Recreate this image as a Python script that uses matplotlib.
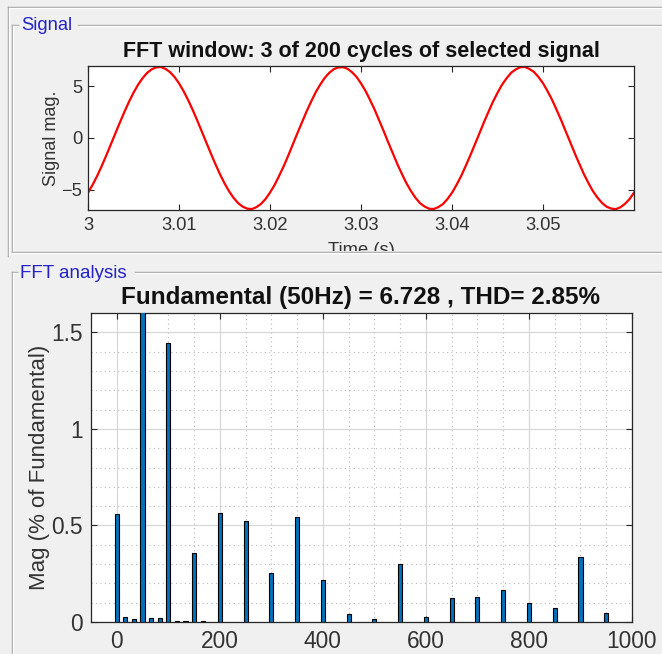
import numpy as np
import matplotlib
matplotlib.use("Agg")
import matplotlib.pyplot as plt
from matplotlib.lines import Line2D
from matplotlib.ticker import MultipleLocator
from matplotlib.transforms import Bbox, TransformedBbox

# ---------------- data ----------------
# Signal samples, every 0.5 ms from t = 3.000 s to 3.060 s
signal_t0 = 3.0
signal_dt = 0.0005
signal_mag = [
    -5.28, -4.53, -3.67, -2.72, -1.70, -0.64, 0.43, 1.49, 2.52, 3.49,
    4.37, 5.14, 5.78, 6.29, 6.63, 6.82, 6.85, 6.68, 6.37, 5.90,
    5.28, 4.53, 3.67, 2.72, 1.70, 0.64, -0.43, -1.49, -2.52, -3.49,
    -4.37, -5.14, -5.78, -6.29, -6.63, -6.82, -6.86, -6.68, -6.37, -5.90,
    -5.27, -4.54, -3.66, -2.73, -1.71, -0.63, 0.44, 1.48, 2.53, 3.48,
    4.38, 5.13, 5.79, 6.28, 6.64, 6.81, 6.84, 6.69, 6.36, 5.91,
    5.27, 4.54, 3.66, 2.73, 1.69, 0.65, -0.44, -1.48, -2.53, -3.48,
    -4.38, -5.13, -5.79, -6.30, -6.62, -6.83, -6.85, -6.67, -6.38, -5.89,
    -5.29, -4.52, -3.68, -2.71, -1.70, -0.65, 0.42, 1.50, 2.51, 3.50,
    4.36, 5.15, 5.77, 6.30, 6.62, 6.83, 6.86, 6.67, 6.38, 5.89,
    5.29, 4.52, 3.68, 2.71, 1.71, 0.63, -0.42, -1.50, -2.51, -3.50,
    -4.36, -5.15, -5.77, -6.28, -6.64, -6.81, -6.87, -6.69, -6.36, -5.91,
    -5.28,
]

# FFT bins (Hz) and magnitudes (% of fundamental)
freq_hz = [0, 16.67, 33.33, 50, 66.67, 83.33, 100, 116.67, 133.33, 150, 166.67,
           200, 250, 300, 350, 400, 450, 500, 550, 600, 650, 700, 750, 800,
           850, 900, 950]
mag_pct = [0.558, 0.027, 0.014, 100.0, 0.019, 0.019, 1.445, 0.007, 0.007, 0.355,
           0.007, 0.563, 0.524, 0.252, 0.543, 0.219, 0.039, 0.014, 0.299, 0.027,
           0.124, 0.131, 0.168, 0.099, 0.073, 0.337, 0.048]

signal_xticks = [3.0, 3.01, 3.02, 3.03, 3.04, 3.05]
signal_xticklabels = ["3", "3.01", "3.02", "3.03", "3.04", "3.05"]
signal_yticks = [-5, 0, 5]
fft_xticks = [0, 200, 400, 600, 800, 1000]
fft_yticks = [0, 0.5, 1, 1.5]
fft_yticklabels = ["0", "0.5", "1", "1.5"]

title_signal = "FFT window: 3 of 200 cycles of selected signal"
title_fft = "Fundamental (50Hz) = 6.728 , THD= 2.85%"

# ---------------- figure ----------------
W, H = 662, 654
plt.rcParams['font.family'] = ['Liberation Sans', 'DejaVu Sans']
BG = '#f0f0f0'
fig = plt.figure(figsize=(W / 100, H / 100), dpi=100, facecolor=BG)


def fx(x):
    return x / W


def fy(y):
    return 1 - y / H


def ax_rect(l, t, r, b):
    return [fx(l), fy(b), (r - l) / W, (b - t) / H]


def hline(x0, x1, y, color='#a0a0a0', lw=1.0, z=5):
    fig.add_artist(Line2D([fx(x0), fx(x1)], [fy(y), fy(y)], color=color, lw=lw,
                          transform=fig.transFigure, zorder=z))


def vline(x, y0, y1, color='#a0a0a0', lw=1.0, z=5):
    fig.add_artist(Line2D([fx(x), fx(x)], [fy(y0), fy(y1)], color=color, lw=lw,
                          transform=fig.transFigure, zorder=z))


# outer frame
hline(8, W, 7)
hline(9, W, 8, color='white')
vline(8, 7, 256)
vline(9, 8, 256, color='white')

# Signal panel
hline(12, 18, 25)
hline(78, W, 25)
hline(13, 18, 26, color='white')
hline(78, W, 26, color='white')
vline(12, 25, 252)
vline(13, 26, 251, color='white')
hline(12, W, 252)
hline(12, W, 253, color='white')
fig.text(fx(21), fy(26), "Signal", color='#2323c8', fontsize=13.2,
         ha='left', va='center')

# FFT panel
hline(12, 17, 272)
hline(135, W, 272)
hline(13, 17, 273, color='white')
hline(135, W, 273, color='white')
vline(12, 272, H)
vline(13, 273, H, color='white')
fig.text(fx(20), fy(273), "FFT analysis", color='#2323c8', fontsize=13.5,
         ha='left', va='center')

AXC = '#262626'
TXT = '#333333'

# ---------------- signal axes ----------------
ax1 = fig.add_axes(ax_rect(88, 66, 634, 210))
t = signal_t0 + signal_dt * np.arange(len(signal_mag))
ax1.plot(t, signal_mag, color='red', lw=1.6)
ax1.set_xlim(3.0, 3.06)
ax1.set_ylim(-6.95, 6.95)
ax1.set_xticks(signal_xticks)
ax1.set_xticklabels(signal_xticklabels)
ax1.set_yticks(signal_yticks)
ax1.tick_params(direction='in', length=4, width=0.8, color=AXC,
                top=True, right=True, labelsize=13.2, labelcolor=TXT)
ax1.tick_params(axis='x', pad=5)
ax1.tick_params(axis='y', pad=4)
for s in ax1.spines.values():
    s.set_color(AXC)
    s.set_linewidth(0.9)
fig.text(fx(361), fy(52), title_signal, fontsize=15.5, fontweight='bold',
         ha='center', va='center', color='#111111')
fig.text(fx(52), fy(138), "Signal mag.", fontsize=13, rotation=90,
         ha='center', va='center', color=TXT)
xl = fig.text(fx(361), fy(255), "Time (s)", fontsize=13.2, ha='center',
              va='baseline', color=TXT)
xl.set_clip_box(TransformedBbox(Bbox([[0, fy(251)], [1, 1]]), fig.transFigure))
xl.set_clip_on(True)

# ---------------- FFT axes ----------------
ax2 = fig.add_axes(ax_rect(91, 313, 632, 622))
ax2.bar(freq_hz, mag_pct, width=8, color='#0072BD', edgecolor='black',
        linewidth=0.8, zorder=3)
ax2.set_xlim(-50, 1000)
ax2.set_ylim(0, 1.6)
ax2.set_xticks(fft_xticks)
ax2.set_yticks(fft_yticks)
ax2.set_yticklabels(fft_yticklabels)
ax2.xaxis.set_minor_locator(MultipleLocator(50))
ax2.yaxis.set_minor_locator(MultipleLocator(0.1))
ax2.set_axisbelow(True)
ax2.grid(which='major', color='#d8d8d8', lw=0.9, ls='-')
ax2.grid(which='minor', color='#b8b8b8', lw=0.8, ls=(0, (1, 3)))
ax2.tick_params(which='major', direction='in', length=4, width=0.8, color=AXC,
                top=True, right=True, labelsize=16.4, labelcolor=TXT)
ax2.tick_params(which='minor', length=0)
ax2.tick_params(axis='x', pad=6)
ax2.tick_params(axis='y', pad=6)
for s in ax2.spines.values():
    s.set_color(AXC)
    s.set_linewidth(0.9)
fig.text(fx(361), fy(297), title_fft, fontsize=17.5, fontweight='bold',
         ha='center', va='center', color='#111111')
fig.text(fx(40), fy(467), "Mag (% of Fundamental)", fontsize=16, rotation=90,
         ha='center', va='center', color=TXT)

fig.savefig("out.png", dpi=100, facecolor=BG)
